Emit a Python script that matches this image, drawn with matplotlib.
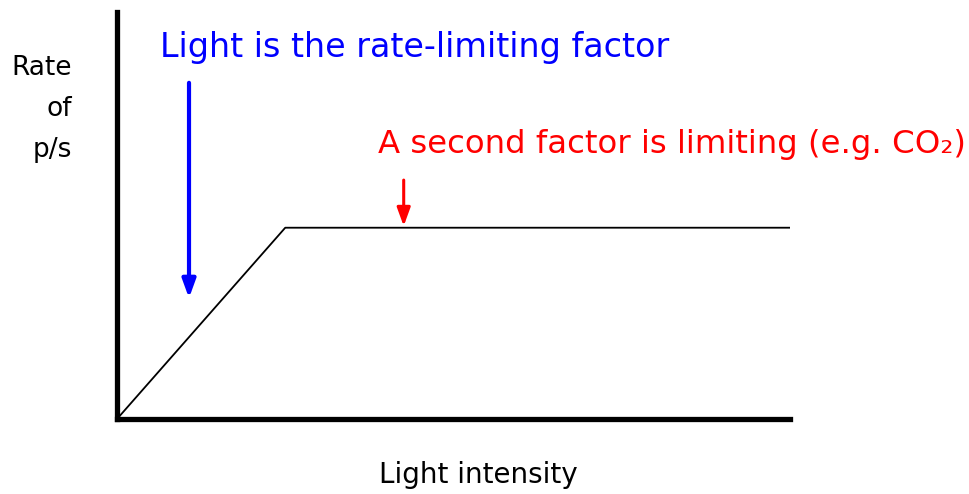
import matplotlib
matplotlib.use("Agg")
import matplotlib.pyplot as plt

# response curve: rate of photosynthesis vs light intensity
light = [0, 25, 100]
rate = [0, 47, 47]

# annotation arrows (x, y_start, y_end) in data units
blue_arrow = (10.7, 82.6, 29.7)
red_arrow = (42.6, 58.7, 47.4)

blue_label = "Light is the rate-limiting factor"
red_label = "A second factor is limiting (e.g. CO\u2082)"
y_label = "Rate\nof\np/s"
x_label = "Light intensity"

plt.rcParams['font.family'] = ['DejaVu Sans']

fig = plt.figure(figsize=(9.7, 4.94), dpi=100)
ax = fig.add_axes([117 / 970, 75 / 494, 673 / 970, 407 / 494])
ax.set_xlim(0, 100)
ax.set_ylim(0, 100)

ax.plot(light, rate, color='black', lw=1.3, clip_on=False,
        solid_capstyle='butt')

for (x, y0, y1), c in [(blue_arrow, 'blue'), (red_arrow, 'red')]:
    ax.annotate('', xy=(x, y1), xytext=(x, y0),
                arrowprops=dict(arrowstyle='-|>,head_width=0.4,head_length=1.1',
                                color=c, lw=3 if c == 'blue' else 2.2,
                                shrinkA=0, shrinkB=0))

for s in ['top', 'right']:
    ax.spines[s].set_visible(False)
for s in ['left', 'bottom']:
    ax.spines[s].set_linewidth(3.8)
    ax.spines[s].set_capstyle('projecting')
ax.set_xticks([])
ax.set_yticks([])

fig.text(160 / 970, 1 - 48 / 494, blue_label, color='blue', fontsize=24,
         ha='left', va='center')
fig.text(378 / 970, 1 - 145 / 494, red_label, color='red', fontsize=23.3,
         ha='left', va='center')
fig.text(72 / 970, 1 - 109 / 494, y_label, color='black', fontsize=19,
         ha='right', va='center', linespacing=1.73)
fig.text(478 / 970, 1 - 475 / 494, x_label, color='black', fontsize=20,
         ha='center', va='center')

fig.savefig('out.png', dpi=100, facecolor='white')
